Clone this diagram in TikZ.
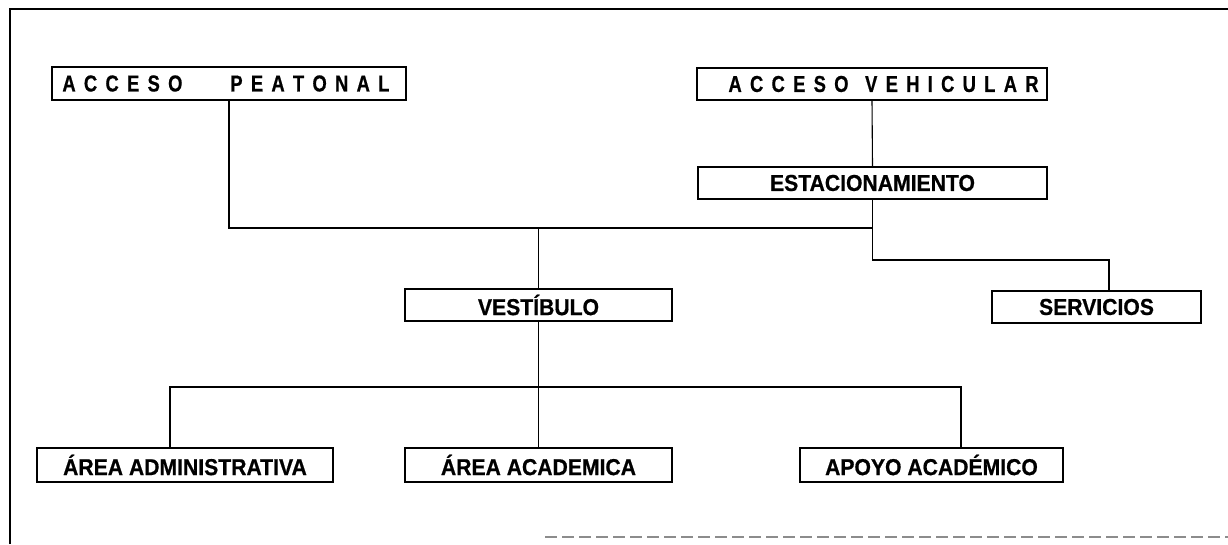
\documentclass[tikz,border=0pt]{standalone}
\usepackage{fontspec}
\setmainfont{Liberation Sans}
\newfontfamily\lbl[FakeBold=0.7,FakeStretch=0.92]{Liberation Sans Bold}
\usepackage{graphicx}
\newcommand\trk[1]{\trkx#1\relax\unkern}
\def\trkx#1{\ifx#1\relax\else#1\kern9.5pt\expandafter\trkx\fi}
\tikzset{
  box/.style={draw=black, line width=1.6pt, rectangle, inner sep=0pt,
    font=\lbl\fontsize{23}{27}\selectfont},
  spaced/.style={inner sep=0pt, font=\lbl\fontsize{23}{27}\selectfont},
  link/.style={draw=black, line width=1.1pt},
  frameline/.style={draw=black, line width=2.4pt},
  scanline/.style={draw=black!45, line width=1.6pt, dash pattern=on 12pt off 5pt}
}
\begin{document}
\begin{tikzpicture}[x=1pt, y=-1pt]
\useasboundingbox (0,0) rectangle (1228,544);
% frame
\coordinate (fbl) at (10,544);
\coordinate (ftl) at (10,9);
\coordinate (ftr) at (1228,9);
\coordinate (fb1) at (545,537);
\coordinate (fb2) at (1228,537);
\draw[frameline] (fbl) -- (ftl) -- (ftr);
\draw[scanline] (fb1) -- (fb2);
% helper levels
\coordinate (yA) at (0,228);
\coordinate (yB) at (0,260);
\coordinate (yC) at (0,387);
\coordinate (sx) at (1109,0);
\coordinate (ax) at (170,0);
\coordinate (px) at (961,0);
% boxes
\node[box, minimum width=354pt, minimum height=33pt] (peat) at (229,83.5) {};
\node[box, minimum width=350pt, minimum height=32pt] (veh) at (872,84) {};
\node[box, minimum width=349pt, minimum height=32pt] (est) at (872.5,183) {ESTACIONAMIENTO};
\node[box, minimum width=267pt, minimum height=32pt] (vest) at (538.5,305) {VESTÍBULO};
\node[box, minimum width=209pt, minimum height=32pt] (serv) at (1096.5,307) {SERVICIOS};
\node[box, minimum width=296pt, minimum height=34pt] (admin) at (185,465) {ÁREA ADMINISTRATIVA};
\node[box, minimum width=267pt, minimum height=34pt] (acad) at (538.5,465) {ÁREA ACADEMICA};
\node[box, minimum width=263pt, minimum height=34pt] (apoyo) at (931.5,465) {APOYO ACADÉMICO};
% spaced titles
\node[spaced, anchor=west] (tpeat) at ([xshift=11pt]peat.west)
  {\scalebox{0.87}[1]{\trk{ACCESO}\hspace{55pt}\trk{PEATONAL}}};
\node[spaced, anchor=east] (tveh) at ([xshift=-9pt]veh.east)
  {\scalebox{0.87}[1]{\trk{ACCESO}\hspace{19pt}\trk{VEHICULAR}}};
% connectors
\draw[link] (peat.south) -- (peat.south |- yA) -- (est.south |- yA);
\draw[link] (veh.south) -- (est.north);
\draw[link] (est.south) -- (est.south |- yB) -- (sx |- yB) -- (serv.north -| sx);
\draw[link] (vest.north) -- (vest.north |- yA);
\draw[link] (vest.south) -- (acad.north);
\draw[link] (admin.north -| ax) -- (ax |- yC) -- (px |- yC) -- (apoyo.north -| px);
\end{tikzpicture}
\end{document}
